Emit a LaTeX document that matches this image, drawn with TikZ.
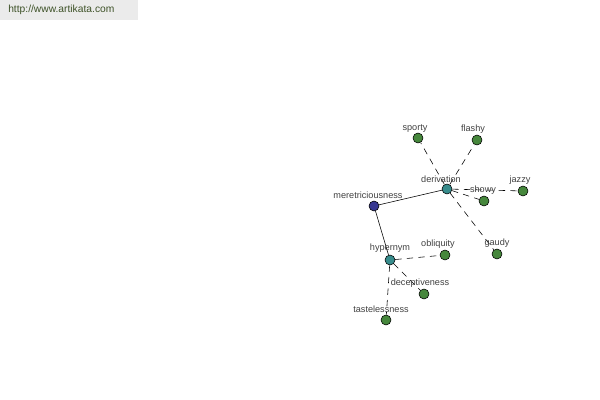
\documentclass[tikz,border=0pt]{standalone}
\usepackage{fontspec}
\setmainfont{Liberation Sans}
\definecolor{RootBlue}{RGB}{55,55,145}
\definecolor{RelTeal}{RGB}{55,140,140}
\definecolor{LeafGreen}{RGB}{70,135,60}
\definecolor{SiteGreen}{RGB}{62,82,40}

\begin{document}
\begin{tikzpicture}[x=0.025cm,y=-0.025cm,
  word/.style={circle,draw=black,line width=0.4pt,inner sep=0pt,minimum size=0.25cm},
  tag/.style={font=\fontsize{6.5}{7}\selectfont,text=black!75,inner sep=0pt},
  rel/.style={line width=0.4pt,dash pattern=on 0.16cm off 0.13cm}]
\useasboundingbox (0,0) rectangle (600,400);
\fill[black!8] (0,0) rectangle (138,20);
\node[font=\fontsize{7.3}{8}\selectfont,text=SiteGreen,anchor=west,inner sep=0pt] (site) at (8,10) {http://www.artikata.com};

\node[word,fill=RootBlue] (meretriciousness) at (374,206) {};
\node[word,fill=RelTeal] (derivation) at (447,189) {};
\node[word,fill=RelTeal] (hypernym) at (390,260) {};
\node[word,fill=LeafGreen] (sporty) at (418,138) {};
\node[word,fill=LeafGreen] (flashy) at (477,140) {};
\node[word,fill=LeafGreen] (showy) at (484,201) {};
\node[word,fill=LeafGreen] (jazzy) at (523,191) {};
\node[word,fill=LeafGreen] (gaudy) at (497,254) {};
\node[word,fill=LeafGreen] (obliquity) at (445,255) {};
\node[word,fill=LeafGreen] (deceptiveness) at (424,294) {};
\node[word,fill=LeafGreen] (tastelessness) at (386,320) {};

% relations
\draw[line width=0.4pt] (meretriciousness) -- (derivation);
\draw[line width=0.4pt] (meretriciousness) -- (hypernym);
\draw[rel] (derivation) -- (sporty);
\draw[rel] (derivation) -- (flashy);
\draw[rel] (derivation) -- (showy);
\draw[rel] (derivation) -- (jazzy);
\draw[rel] (derivation) -- (gaudy);
\draw[rel] (hypernym) -- (obliquity);
\draw[rel] (hypernym) -- (deceptiveness);
\draw[rel] (hypernym) -- (tastelessness);

% labels
\node[tag] (lmeretriciousness) at (368,195) {meretriciousness};
\node[tag] (lderivation) at (441,179) {derivation};
\node[tag] (lhypernym) at (390,248) {hypernym};
\node[tag] (lsporty) at (415,128) {sporty};
\node[tag] (lflashy) at (473,129) {flashy};
\node[tag] (lshowy) at (483,190) {showy};
\node[tag] (ljazzy) at (520,180) {jazzy};
\node[tag] (lgaudy) at (497,243) {gaudy};
\node[tag] (lobliquity) at (438,244) {obliquity};
\node[tag] (ldeceptiveness) at (420,283) {deceptiveness};
\node[tag] (ltastelessness) at (381,309) {tastelessness};
\end{tikzpicture}
\end{document}
